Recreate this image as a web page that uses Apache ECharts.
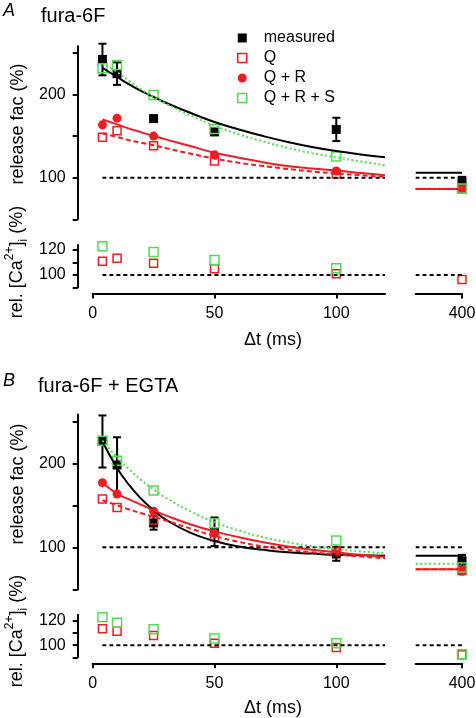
<!DOCTYPE html>
<html><head><meta charset="utf-8">
<script src="https://cdn.jsdelivr.net/npm/echarts@6/dist/echarts.min.js"></script>
<style>html,body{margin:0;padding:0;background:#fff}#c{width:476px;height:718px}</style>
</head><body><div id="c"></div><script>
// ---------- data ----------
const times = [4, 10, 25, 50, 100, 400];
// panel A (fura-6F)
const aMeasured    = [242, 225, 171, 155, 158, 96];
const aMeasuredErr = [19, 13.5, null, null, 14, 5];
const aQ           = [148.5, 156.5, 138.5, 120, 104.5, 86.5];
const aQR          = [163.5, 171.5, 150, 127.5, 108, 86.5];
const aQRS         = [231.5, 235.5, 199.5, 158.5, 125.5, 87];
const aCaQ         = [111, 113.5, 109.5, 105, 101, 96.5];
const aCaQRS       = [123, 124.5, 118.5, 112, 105.5, null];
// panel B (fura-6F + EGTA)
const bMeasured    = [226, 198, 129, 118.5, 92, 84];
const bMeasuredErr = [31, 33, 8, 17, 8, 7];
const bQ           = [157.5, 147.5, 132.5, 112.5, 95, 72.5];
const bQR          = [177, 163.5, 143, 116.5, 97, 71.5];
const bQRS         = [227, 203, 167.5, 128.5, 108, 76];
const bCaQ         = [113.5, 111.5, 108, 101.5, 98, 92];
const bCaQRS       = [123, 118.5, 113, 105.5, 101.5, 92.5];
// fitted curves
const fitT          = [4, 10, 15, 20, 25, 30, 40, 50, 60, 70, 80, 90, 100, 110, 120];
const aFitMeasured  = [232, 221, 212, 204, 197, 190, 178, 167, 158, 150, 143, 137, 132, 128, 124.5];
const aFitQRS       = [237, 227, 216, 206, 197, 189, 175, 162.5, 152, 143.5, 136, 129.5, 124.5, 119.5, 115];
const aFitQR        = [170, 164, 159, 154.5, 150, 146, 138, 130, 124, 118.5, 114, 111, 108.5, 105.5, 103];
const aFitQ         = [153, 149, 145, 142, 139, 135.5, 129, 123, 118, 114, 110.5, 107.5, 105, 103, 101];
const bFitMeasured  = [226, 194.5, 174, 157.5, 144, 133, 117.5, 107.5, 101, 97, 94, 92.5, 91, 90.5, 90];
const bFitQRS       = [227, 207, 193, 180, 169, 159, 143, 130, 120, 112, 106, 101.5, 98, 95, 93];
const bFitQR        = [177, 164, 157, 150.5, 144, 138, 127.5, 119, 112, 106, 101, 97, 94, 91, 88.5];
const bFitQ         = [156, 150, 145, 140.5, 136.5, 132, 122.5, 113.5, 106.5, 101, 97, 94, 91.5, 89, 87];
// asymptotic fit levels drawn in the broken (long-interval) segment
const breakT        = [381, 400];
const aBreakFit     = [106, 87, 86.5, 86.5];   // measured, Q+R+S, Q+R, Q
const bBreakFit     = [90, 80.5, 74, 74];
// reference line
const refMainT = [4, 120];
const refValue = 100;
// ticks / labels
const xMainTicks   = [0, 50, 100];
const xBreakTicks  = [400];
const relTicks     = [50, 100, 150, 200, 250];
const relLabels    = [100, 200];
const caTicks      = [90, 100, 110, 120];
const caLabels     = [100, 120];

// ---------- styles ----------
const FONT = 'Liberation Sans, Arial, sans-serif';
const RED = '#ee1c24', GREEN = '#55d955', BLACK = '#000';

const panels = [
  {measured:aMeasured, err:aMeasuredErr, q:aQ, qr:aQR, qrs:aQRS, caQ:aCaQ, caQRS:aCaQRS,
   fits:[aFitMeasured, aFitQRS, aFitQR, aFitQ], brk:aBreakFit,
   upTop:46.2, upH:173.1, loTop:245, loH:42.5, loMax:124},
  {measured:bMeasured, err:bMeasuredErr, q:bQ, qr:bQR, qrs:bQRS, caQ:bCaQ, caQRS:bCaQRS,
   fits:[bFitMeasured, bFitQRS, bFitQR, bFitQ], brk:bBreakFit,
   upTop:414.6, upH:174.7, loTop:614.8, loH:42.5, loMax:125}
];
const MAIN_L = 92.7, MAIN_W = 292.3, BRK_L = 415.7, BRK_W = 46.3;

const grids = [], xAxes = [], yAxes = [], series = [];
const isMain = t => t <= 120;
function pts(vals, main) {
  const out = [];
  times.forEach((t, i) => { if (vals[i] != null && isMain(t) === main) out.push([t, vals[i]]); });
  return out;
}
function errPts(vals, errs, main) {
  const out = [];
  times.forEach((t, i) => { if (errs[i] != null && isMain(t) === main) out.push([t, vals[i] - errs[i], vals[i] + errs[i]]); });
  return out;
}
const axisLineStyle = {color: BLACK, width: 2};
function xAxis(gi, min, max, show, ticks) {
  return {type:'value', gridIndex:gi, min, max, show, offset:6,
    axisLine:{show:true, onZero:false, lineStyle:axisLineStyle},
    axisTick:{show:true, length:5, lineStyle:axisLineStyle, customValues:ticks},
    axisLabel:{show:true, customValues:ticks, margin:12, fontSize:16, color:BLACK, fontFamily:FONT},
    splitLine:{show:false}};
}
function yAxis(gi, min, max, show, ticks, labels) {
  return {type:'value', gridIndex:gi, min, max, show, offset:15,
    axisLine:{show:true, onZero:false, lineStyle:axisLineStyle},
    axisTick:{show:true, length:5, lineStyle:axisLineStyle, customValues:ticks},
    axisLabel:{show:true, customValues:labels, margin:12, fontSize:16, color:BLACK, fontFamily:FONT},
    splitLine:{show:false}};
}
function lineS(gi, data, color, type) {
  return {type:'line', xAxisIndex:gi, yAxisIndex:gi, data, symbol:'none',
    smooth:0.5, silent:true,
    lineStyle:{color, width:2, type}};
}
function scatterS(gi, name, data, symbol, size, fill, border) {
  return {type:'scatter', name, xAxisIndex:gi, yAxisIndex:gi, data, symbol, symbolSize:size,
    itemStyle: border ? {color:'rgba(0,0,0,0)', borderColor:border, borderWidth:1.5, opacity:1}
                      : {color:fill, opacity:1}};
}
function errS(gi, data) {
  return {type:'custom', xAxisIndex:gi, yAxisIndex:gi, data, encode:{x:0, y:[1,2]}, silent:true,
    renderItem(params, api) {
      const x = api.value(0);
      const a = api.coord([x, api.value(2)]), b = api.coord([x, api.value(1)]);
      const hw = 4, st = {stroke:BLACK, lineWidth:2};
      return {type:'group', children:[
        {type:'line', shape:{x1:a[0], y1:a[1], x2:b[0], y2:b[1]}, style:st},
        {type:'line', shape:{x1:a[0]-hw, y1:a[1], x2:a[0]+hw, y2:a[1]}, style:st},
        {type:'line', shape:{x1:b[0]-hw, y1:b[1], x2:b[0]+hw, y2:b[1]}, style:st}
      ]};
    }};
}
const fitStyles = [[BLACK,'solid'],[GREEN,[2,2.5]],[RED,'solid'],[RED,[5,3]]];

panels.forEach((p, pi) => {
  const g = pi * 4;
  grids.push({left:MAIN_L, top:p.upTop, width:MAIN_W, height:p.upH, outerBoundsMode:'none'});
  grids.push({left:BRK_L,  top:p.upTop, width:BRK_W,  height:p.upH, outerBoundsMode:'none'});
  grids.push({left:MAIN_L, top:p.loTop, width:MAIN_W, height:p.loH, outerBoundsMode:'none'});
  grids.push({left:BRK_L,  top:p.loTop, width:BRK_W,  height:p.loH, outerBoundsMode:'none'});
  xAxes.push(xAxis(g,   0, 120, false, xMainTicks));
  xAxes.push(xAxis(g+1, breakT[0], breakT[1], false, xBreakTicks));
  xAxes.push(xAxis(g+2, 0, 120, true, xMainTicks));
  xAxes.push(xAxis(g+3, breakT[0], breakT[1], true, xBreakTicks));
  yAxes.push(yAxis(g,   50, 258, true, relTicks, relLabels));
  yAxes.push(yAxis(g+1, 50, 258, false, relTicks, relLabels));
  yAxes.push(yAxis(g+2, 90, p.loMax, true, caTicks, caLabels));
  yAxes.push(yAxis(g+3, 90, p.loMax, false, caTicks, caLabels));

  series.push(lineS(g, refMainT.map(t => [t, refValue]), BLACK, [4,3]));
  p.fits.forEach((f, k) => series.push(lineS(g, fitT.map((t, i) => [t, f[i]]), fitStyles[k][0], fitStyles[k][1])));
  series.push(lineS(g+1, breakT.map(t => [t, refValue]), BLACK, [4,3]));
  p.brk.forEach((v, k) => series.push(lineS(g+1, breakT.map(t => [t, v]), fitStyles[k][0], fitStyles[k][1])));
  series.push(lineS(g+2, refMainT.map(t => [t, refValue]), BLACK, [4,3]));
  series.push(lineS(g+3, breakT.map(t => [t, refValue]), BLACK, [4,3]));

  [[g, true], [g+1, false]].forEach(([gi, main]) => {
    series.push(errS(gi, errPts(p.measured, p.err, main)));
    series.push(scatterS(gi, 'measured', pts(p.measured, main), 'rect', 9, BLACK));
    series.push(scatterS(gi, 'Q', pts(p.q, main), 'rect', 8, null, RED));
    series.push(scatterS(gi, 'Q + R', pts(p.qr, main), 'circle', 9, RED));
    series.push(scatterS(gi, 'Q + R + S', pts(p.qrs, main), 'rect', 9, null, GREEN));
  });
  [[g+2, true], [g+3, false]].forEach(([gi, main]) => {
    series.push(scatterS(gi, 'Q', pts(p.caQ, main), 'rect', 8, null, RED));
    series.push(scatterS(gi, 'Q + R + S', pts(p.caQRS, main), 'rect', 9, null, GREEN));
  });
});

function txt(x, y, text, size, opts) {
  return Object.assign({type:'text', x, y, silent:true,
    style:{text, fontSize:size, fontFamily:FONT, fill:BLACK, textAlign:'center', textVerticalAlign:'middle'}}, opts || {});
}
const caRich = {
  n:{fontSize:18, fontFamily:FONT, fill:BLACK, color:BLACK, lineHeight:26, verticalAlign:'middle'},
  sup:{fontSize:12, fontFamily:FONT, fill:BLACK, color:BLACK, lineHeight:12, verticalAlign:'top'},
  sub:{fontSize:12, fontFamily:FONT, fill:BLACK, color:BLACK, lineHeight:16, verticalAlign:'bottom'}
};
const caText = '{n|rel. [Ca}{sup|2+}{n|]}{sub|i}{n| (%)}';
const graphics = [
  txt(9, 11, 'A', 18, {style:{text:'A', fontSize:18, fontStyle:'italic', fontFamily:FONT, fill:BLACK, textAlign:'center', textVerticalAlign:'middle'}}),
  txt(41, 16, 'fura-6F', 20, {style:{text:'fura-6F', fontSize:20, fontFamily:FONT, fill:BLACK, textAlign:'left', textVerticalAlign:'middle'}}),
  txt(9, 381, 'B', 18, {style:{text:'B', fontSize:18, fontStyle:'italic', fontFamily:FONT, fill:BLACK, textAlign:'center', textVerticalAlign:'middle'}}),
  txt(38, 386, 'fura-6F + EGTA', 20, {style:{text:'fura-6F + EGTA', fontSize:20, fontFamily:FONT, fill:BLACK, textAlign:'left', textVerticalAlign:'middle'}}),
  txt(18, 124, 'release fac (%)', 18, {rotation:Math.PI/2}),
  txt(18, 484, 'release fac (%)', 18, {rotation:Math.PI/2}),
  {type:'text', x:17, y:262, rotation:Math.PI/2, silent:true, style:{text:caText, rich:caRich, textAlign:'center', textVerticalAlign:'middle', fontFamily:FONT}},
  {type:'text', x:17, y:631, rotation:Math.PI/2, silent:true, style:{text:caText, rich:caRich, textAlign:'center', textVerticalAlign:'middle', fontFamily:FONT}},
  txt(273, 340, 'Δt (ms)', 18),
  txt(273, 708, 'Δt (ms)', 18)
];

const chart = echarts.init(document.getElementById('c'), null, {renderer:'canvas'});
chart.setOption({
  animation:false,
  backgroundColor:'#fff',
  textStyle:{fontFamily:FONT},
  grid:grids, xAxis:xAxes, yAxis:yAxes, series,
  legend:{
    orient:'vertical', left:232, top:25, itemWidth:9, itemHeight:9, itemGap:4,
    selectedMode:false, icon:'rect',
    textStyle:{fontSize:16, fontFamily:FONT, color:BLACK, lineHeight:16, padding:[0,0,0,12]},
    data:[
      {name:'measured', icon:'rect', itemStyle:{color:BLACK}},
      {name:'Q', icon:'rect', itemStyle:{color:'rgba(0,0,0,0)', borderColor:RED, borderWidth:1.5}},
      {name:'Q + R', icon:'circle', itemStyle:{color:RED}},
      {name:'Q + R + S', icon:'rect', itemStyle:{color:'rgba(0,0,0,0)', borderColor:GREEN, borderWidth:1.5}}
    ]
  },
  graphic:graphics
});
</script></body></html>
